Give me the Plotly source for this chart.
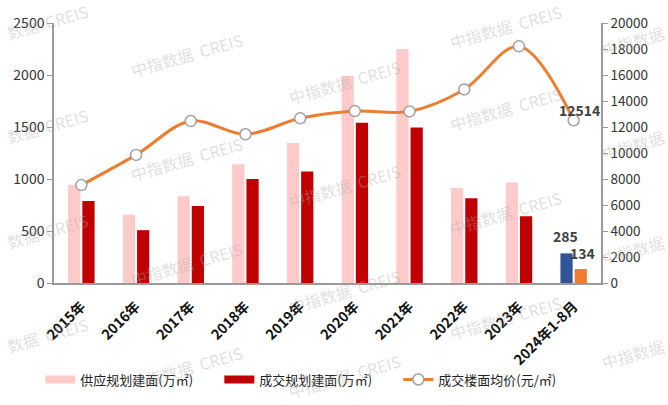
import plotly.graph_objects as go

categories = ["2015年", "2016年", "2017年", "2018年", "2019年", "2020年",
              "2021年", "2022年", "2023年", "2024年1-8月"]
supply = [945, 657, 833, 1143, 1347, 1990, 2251, 913, 967, 285]
deal = [788, 508, 740, 999, 1073, 1542, 1494, 814, 642, 134]
price = [7533, 9854, 12460, 11440, 12667, 13226, 13200, 14889, 18207, 12514]

PINK = "#FFCACA"
DARKRED = "#C00000"
BLUE = "#2F5597"
ORANGE = "#ED7D31"
supply_colors = [PINK] * 9 + [BLUE]
deal_colors = [DARKRED] * 9 + [ORANGE]

FONT = "Noto Sans CJK SC"
TXT = "#333333"

fig = go.Figure()

fig.add_trace(go.Bar(x=categories, y=supply, marker=dict(color=supply_colors, line_width=0),
                     showlegend=False, name="供应规划建面(万㎡)"))
fig.add_trace(go.Bar(x=categories, y=deal, marker=dict(color=deal_colors, line_width=0),
                     showlegend=False, name="成交规划建面(万㎡)"))
fig.add_trace(go.Scatter(x=categories, y=price, yaxis="y2", mode="lines+markers",
                         line=dict(color=ORANGE, width=3, shape="spline"),
                         marker=dict(size=11, color="white", line=dict(color="#A0A0A0", width=1.5)),
                         showlegend=False, name="成交楼面均价(元/㎡)", cliponaxis=False))

# legend entries
fig.add_trace(go.Scatter(x=[None], y=[None], mode="lines", line=dict(color=PINK, width=8),
                         name="供应规划建面(万㎡)"))
fig.add_trace(go.Scatter(x=[None], y=[None], mode="lines", line=dict(color=DARKRED, width=8),
                         name="成交规划建面(万㎡)"))
fig.add_trace(go.Scatter(x=[None], y=[None], mode="lines+markers", line=dict(color=ORANGE, width=3),
                         marker=dict(size=11, color="white", line=dict(color="#A0A0A0", width=1.5)),
                         name="成交楼面均价(元/㎡)"))

annotations = [
    dict(x=categories[-1], y=supply[-1], xref="x", yref="y", text=f"<b>{supply[-1]}</b>",
         showarrow=False, xshift=-8.5, yshift=17, font=dict(size=14, color="#404040", family=FONT)),
    dict(x=categories[-1], y=deal[-1], xref="x", yref="y", text=f"<b>{deal[-1]}</b>",
         showarrow=False, xshift=8.5, yshift=16, font=dict(size=14, color="#404040", family=FONT)),
    dict(x=categories[-1], y=price[-1], xref="x", yref="y2", text=f"<b>{price[-1]}</b>",
         showarrow=False, xshift=6, yshift=10, font=dict(size=14, color="#404040", family=FONT)),
]

# watermark (visible portions kept inside the page)
L, R, T, B = 54, 601, 23, 284.3
marks = []
for k in range(4):
    marks.append((47, 22 + 105 * k, "数据  CREIS"))
    marks.append((186, 55 + 105 * k, "中指数据  CREIS"))
    marks.append((345, min(82 + 105 * k, 378), "中指数据  CREIS"))
    marks.append((505, max(4 + 105 * k, 27), "中指数据  CREIS"))
    marks.append((633, 41 + 105 * k, "中指数据"))
for cx, cy, t in marks:
    annotations.append(dict(
        x=(cx - L) / (R - L), y=(B - cy) / (B - T), xref="paper", yref="paper",
        xanchor="center", yanchor="middle",
        text=t, showarrow=False, textangle=-16,
        font=dict(size=16, color="rgba(170,170,170,0.38)", family=FONT)))

fig.update_layout(
    width=668, height=405,
    margin=dict(l=54, r=67, t=23, b=121),
    paper_bgcolor="white", plot_bgcolor="white",
    font=dict(family=FONT, color=TXT, size=13),
    barmode="group", bargap=0.48, bargroupgap=0.14,
    xaxis=dict(type="category", range=[-0.5, len(categories) - 0.5],
               showline=True, linecolor="#9a9a9a", linewidth=1.5,
               ticks="", tickangle=-45, showgrid=False, automargin=False,
               ticklabelstandoff=8,
               tickfont=dict(size=14, color="#111111", family=FONT, weight="bold")),
    yaxis=dict(range=[0, 2500], dtick=500, showline=True, linecolor="#9a9a9a", linewidth=1.5,
               ticks="outside", ticklen=5, tickcolor="#9a9a9a", showgrid=False, zeroline=False,
               automargin=False, tickformat="d",
               tickfont=dict(size=14, color=TXT)),
    yaxis2=dict(range=[0, 20000], dtick=2000, overlaying="y", side="right", showline=True,
                linecolor="#9a9a9a", linewidth=1.5, ticks="outside", ticklen=5, tickcolor="#9a9a9a",
                showgrid=False, zeroline=False, automargin=False, tickformat="d",
                tickfont=dict(size=13.5, color=TXT)),
    legend=dict(orientation="h", x=-0.025, xanchor="left", y=-0.366, yanchor="middle",
                entrywidth=134, font=dict(size=13, color="#222222"), bgcolor="rgba(0,0,0,0)"),
    annotations=annotations,
)

fig.write_html("out.html")
